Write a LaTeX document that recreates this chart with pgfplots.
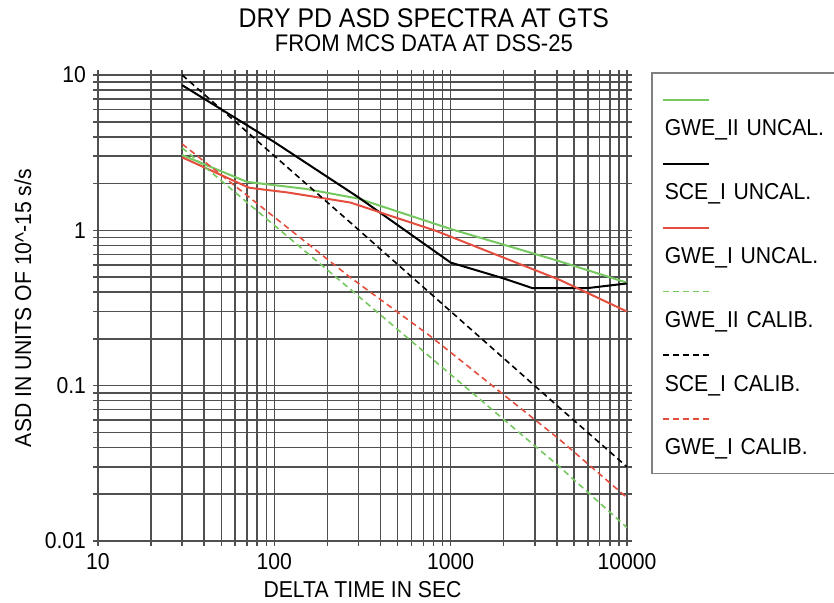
\documentclass[border=0pt]{standalone}
\usepackage{fontspec}
\setmainfont[FakeStretch=0.92]{Liberation Sans}
\usepackage{pgfplots}
\pgfplotsset{compat=1.18}
\definecolor{gweII}{RGB}{118,200,96}
\definecolor{gweI}{RGB}{228,78,62}
\definecolor{gridc}{RGB}{80,80,80}
\newcommand{\lblfont}{\fontsize{11.5}{13}\selectfont}
\begin{document}
\begin{tikzpicture}
\useasboundingbox (-49pt,-31pt) rectangle (368pt,270.5pt);
\begin{axis}[
  at={(0pt,0pt)}, anchor=south west,
  width=264.5pt, height=233pt, scale only axis,
  clip mode=individual,
  xmode=log, ymode=log,
  xmin=10, xmax=10000, ymin=0.01, ymax=10,
  xtick={10,100,1000,10000}, xticklabels={10,100,1000,10000},
  ytick={0.01,0.1,1,10}, yticklabels={0.01,0.1,1,10},
  minor xtick={20,30,40,50,60,70,80,90,200,300,400,500,600,700,800,900,2000,3000,4000,5000,6000,7000,8000,9000},
  minor ytick={0.02,0.03,0.04,0.05,0.06,0.07,0.08,0.09,0.2,0.3,0.4,0.5,0.6,0.7,0.8,0.9,2,3,4,5,6,7,8,9},
  grid=both,
  major grid style={gridc, line width=0.75pt},
  minor grid style={gridc, line width=0.75pt},
  axis line style={gridc, line width=0.75pt},
  tick style={gridc, line width=0.75pt},
  tick align=outside, major tick length=2.5pt, minor tick length=2.5pt,
  /pgf/number format/assume math mode=true,
  tick label style={font=\lblfont},
  label style={font=\lblfont},
  xlabel={DELTA TIME IN SEC},
  ylabel={ASD IN UNITS OF 10\textasciicircum-15 s/s},
  xlabel style={at={(axis description cs:0.5,-0.105)}, anchor=center},
  ylabel style={at={(axis description cs:-0.142,0.5)}, anchor=center},
  title={\fontsize{13.5}{15}\selectfont DRY PD ASD SPECTRA AT GTS},
  title style={at={(axis description cs:0.616,1.097)}, anchor=base, inner sep=0pt, yshift=-5pt},
  legend style={at={(axis description cs:1.0454,1.0064)}, anchor=north west,
    draw=gray, line width=0.75pt, fill=white,
    inner xsep=5pt, inner ysep=6pt, row sep=3pt, column sep=0pt,
    font=\lblfont,
    nodes={inner xsep=0.5pt, inner ysep=0pt, text height=8.5pt, text depth=2.5pt,
           text width=88pt, align=left}},
  legend cell align=left,
  legend image code/.code={\draw[#1,overlay] (0pt,15pt) -- (23pt,15pt); \path (0pt,22pt) (0pt,-6pt);},
]
% uncalibrated spectra
\addplot[gweII, line width=1pt] coordinates {
  (30,3.05) (70,2.05) (150,1.85) (300,1.6) (1000,1.02) (4000,0.64) (10000,0.46)};
\addlegendentry{GWE\_II UNCAL.}
\addplot[black, line width=1pt] coordinates {
  (30,8.6) (100,3.7) (300,1.63) (1000,0.62) (2000,0.49) (2900,0.425) (6000,0.425) (10000,0.455)};
\addlegendentry{SCE\_I UNCAL.}
\addplot[gweI, line width=1pt] coordinates {
  (30,2.95) (72,1.88) (120,1.75) (270,1.51) (830,0.99) (4150,0.48) (10000,0.30)};
\addlegendentry{GWE\_I UNCAL.}
% calibrated spectra
\addplot[gweII, line width=0.8pt, dash pattern=on 3pt off 2pt] coordinates {
  (30,3.4) (268,0.42) (1000,0.118) (4150,0.030) (10000,0.0122)};
\addlegendentry{GWE\_II CALIB.}
\addplot[black, line width=0.8pt, dash pattern=on 3pt off 2pt] coordinates {
  (30,10) (268,1.13) (4150,0.072) (10000,0.030)};
\addlegendentry{SCE\_I CALIB.}
\addplot[gweI, line width=0.8pt, dash pattern=on 3pt off 2pt] coordinates {
  (30,3.6) (268,0.50) (760,0.21) (4150,0.045) (10000,0.019)};
\addlegendentry{GWE\_I CALIB.}
\node[anchor=base, inner sep=0pt, font=\fontsize{12}{13}\selectfont]
  at (axis description cs:0.616,1.0494) {FROM MCS DATA AT DSS-25};
\end{axis}
\end{tikzpicture}
\end{document}
